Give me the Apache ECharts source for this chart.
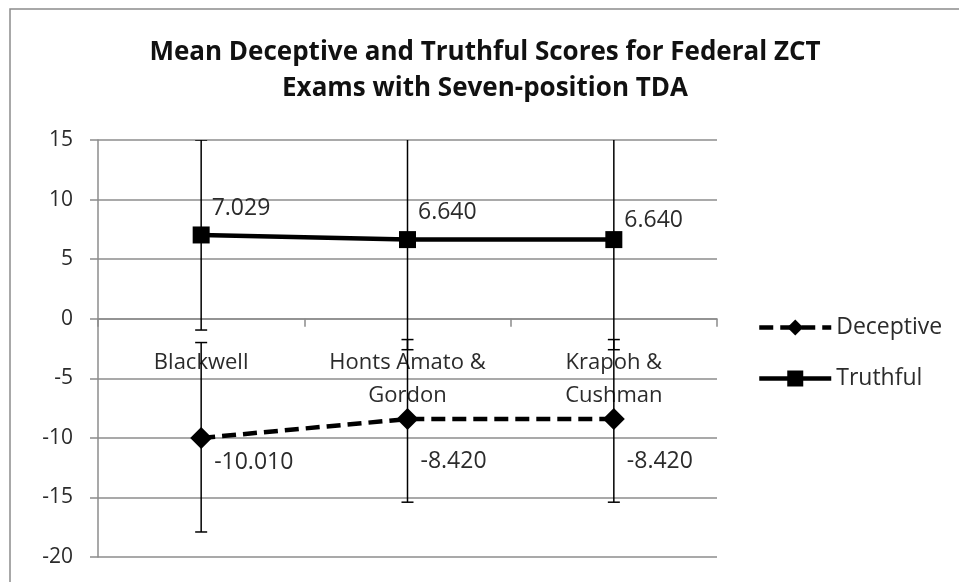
<!DOCTYPE html>
<html>
<head>
<meta charset="utf-8">
<script src="https://cdn.jsdelivr.net/npm/echarts@6/dist/echarts.min.js"></script>
<style>
  html, body { margin: 0; padding: 0; background: #fff; }
  #chart { width: 959px; height: 582px; }
</style>
</head>
<body>
<div id="chart"></div>
<script>
// categories and values
const categories = ["Blackwell", "Honts Amato &\nGordon", "Krapoh &\nCushman"];
const deceptive = [-10.01, -8.42, -8.42];
const truthful = [7.029, 6.64, 6.64];
// error bar ends (low / high)
const deceptiveLow = [-17.9, -15.4, -15.4];
const deceptiveHigh = [-2.0, -1.75, -1.75];
const truthfulLow = [-0.95, -2.6, -2.6];
const truthfulHigh = [15.0, 15.9, 15.9];
const yTicks = { min: -20, max: 15, interval: 5 };

const font = "'Open Sans', 'Noto Sans', sans-serif";
const textColor = "#2b2b2b";
const gridColor = "#8c8c8c";

// plot box (px)
const gridTop = 140;
const gridBottom = 25;
const plotHeight = 582 - gridTop - gridBottom;
// category axis sits on the zero line
const xAxisShift = -plotHeight * (0 - yTicks.min) / (yTicks.max - yTicks.min);

// data labels were nudged by hand in the original, one offset per point
const deceptiveLabelShift = [[0, 24], [0, 42], [0, 42]];
const truthfulLabelShift = [[0, -27], [0, -27], [0, -19]];

// error bar renderer (vertical line + caps)
function errorBar(params, api) {
  const x = api.value(0);
  const top = api.coord([x, api.value(2)]);
  const bottom = api.coord([x, api.value(1)]);
  const half = 6;
  const style = { stroke: "#000", lineWidth: 1.5 };
  return {
    type: "group",
    children: [
      { type: "line", shape: { x1: top[0], y1: top[1], x2: bottom[0], y2: bottom[1] }, style: style },
      { type: "line", shape: { x1: top[0] - half, y1: top[1], x2: top[0] + half, y2: top[1] }, style: style },
      { type: "line", shape: { x1: bottom[0] - half, y1: bottom[1], x2: bottom[0] + half, y2: bottom[1] }, style: style },
    ],
  };
}

const labelStyle = {
  show: true,
  position: "right",
  distance: 2,
  formatter: (p) => p.value.toFixed(3),
  fontFamily: font,
  fontSize: 23,
  color: textColor,
};

const chart = echarts.init(document.getElementById("chart"));
const option = {
  animation: false,
  graphic: [
    {
      type: "rect",
      shape: { x: 10, y: 9, width: 980, height: 620 },
      style: { fill: "none", stroke: "#8c8c8c", lineWidth: 1.5 },
      silent: true,
    },
  ],
  title: {
    text: "Mean Deceptive and Truthful Scores for Federal ZCT\nExams with Seven-position TDA",
    left: 480,
    textAlign: "center",
    top: 30,
    textStyle: {
      fontFamily: font,
      fontWeight: "bold",
      fontSize: 26,
      lineHeight: 36,
      color: "#111",
    },
  },
  legend: {
    orient: "vertical",
    left: 752,
    top: 311,
    itemWidth: 72,
    itemHeight: 20,
    itemGap: 28,
    data: ["Deceptive", "Truthful"],
    lineStyle: { width: 4.5 },
    textStyle: { fontFamily: font, fontSize: 23, lineHeight: 20, color: textColor },
  },
  grid: { left: 98, right: 242, top: gridTop, bottom: gridBottom, outerBoundsMode: "none" },
  xAxis: {
    type: "category",
    data: categories,
    boundaryGap: true,
    offset: xAxisShift,
    axisLine: { onZero: false, lineStyle: { color: gridColor, width: 1.5 } },
    axisTick: { show: true, length: 8, lineStyle: { color: gridColor, width: 1.5 } },
    axisLabel: {
      interval: 0,
      margin: 28,
      fontFamily: font,
      fontSize: 22,
      lineHeight: 33,
      color: textColor,
    },
    splitLine: { show: false },
  },
  yAxis: {
    type: "value",
    min: yTicks.min,
    max: yTicks.max,
    interval: yTicks.interval,
    axisLine: { show: true, lineStyle: { color: gridColor, width: 1.5 } },
    axisTick: { show: true, length: 8, lineStyle: { color: gridColor, width: 1.5 } },
    axisLabel: { margin: 25, fontFamily: font, fontSize: 21, color: textColor },
    splitLine: { lineStyle: { color: gridColor, width: 1.5 } },
  },
  series: [
    {
      type: "custom",
      renderItem: errorBar,
      clip: true,
      z: 1,
      data: categories.map((c, i) => [i, truthfulLow[i], truthfulHigh[i]]),
    },
    {
      type: "custom",
      renderItem: errorBar,
      clip: true,
      z: 1,
      data: categories.map((c, i) => [i, deceptiveLow[i], deceptiveHigh[i]]),
    },
    {
      name: "Deceptive",
      type: "line",
      z: 3,
      data: deceptive.map((v, i) => ({ value: v, label: { offset: deceptiveLabelShift[i] } })),
      symbol: "diamond",
      symbolSize: 22,
      itemStyle: { color: "#000" },
      lineStyle: { color: "#000", width: 4.5, type: [14, 7] },
      label: labelStyle,
    },
    {
      name: "Truthful",
      type: "line",
      z: 3,
      data: truthful.map((v, i) => ({ value: v, label: { offset: truthfulLabelShift[i] } })),
      symbol: "rect",
      symbolSize: 17,
      itemStyle: { color: "#000" },
      lineStyle: { color: "#000", width: 4.5 },
      label: labelStyle,
    },
  ],
};
option && chart.setOption(option);
</script>
</body>
</html>
